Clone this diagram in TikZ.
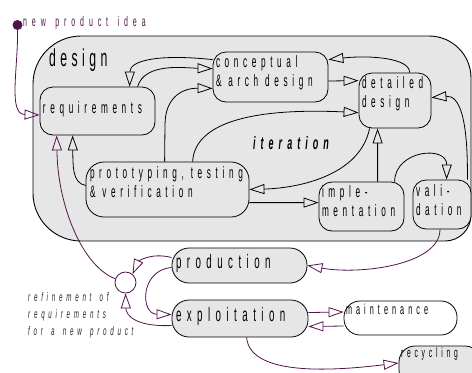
\documentclass[tikz,border=0pt]{standalone}
\usepackage{fontspec}
\usetikzlibrary{arrows.meta}
\newfontfamily\nf[FakeStretch=0.5,LetterSpace=28]{Liberation Sans}
\newfontfamily\nfd[FakeStretch=0.5,LetterSpace=18]{Liberation Sans}
\newfontfamily\nfw[FakeStretch=0.5,LetterSpace=35,WordSpace=1.4]{Liberation Sans}
\newfontfamily\nfr[FakeStretch=0.5,LetterSpace=30,WordSpace=1.5]{Liberation Sans}
\definecolor{boxgray}{RGB}{230,230,230}
\definecolor{plum}{RGB}{80,20,75}
\newcommand\boxtxt[4]{\parbox[c][#2][t]{#1}{\raggedright\rule{0pt}{#3}#4}}
\tikzset{
  box/.style={draw=black, line width=0.8bp, rounded corners=13bp, fill=boxgray,
    inner xsep=3bp, inner ysep=0pt, font=\nf\fontsize{16.5bp}{19bp}\selectfont},
  pill/.style={box, rounded corners=17bp, inner xsep=4bp, font=\nf\fontsize{19.5bp}{22bp}\selectfont},
  smallpill/.style={box, rounded corners=16bp, inner xsep=2bp},
  conn/.style={line width=0.8bp, -{Triangle[open, length=15bp, width=10bp]}},
  pconn/.style={conn, draw=plum},
  designbox/.style={draw=black, line width=0.9bp, fill=boxgray},
}
\begin{document}
\begin{tikzpicture}[x=1bp,y=-1bp]
\useasboundingbox (0,0) rectangle (472,372);
% design container
\path[designbox] (33,150) [rounded corners=48bp] -- (33,36) -- (300,36)
  [rounded corners=42bp] -- (471,36) -- (471,150)
  [rounded corners=26bp] -- (471,241) -- (300,241)
  [rounded corners=48bp] -- (33,241) -- cycle;
\node[anchor=base west, inner sep=0pt, font=\nfd\fontsize{24.5bp}{26bp}\selectfont] (designlbl) at (49,66) {design};
\node[inner sep=0pt, font=\nf\bfseries\itshape\fontsize{18bp}{20bp}\selectfont] (iter) at (291,143) {iteration};

% boxes
\node[box] (req) at (97.5,111) {\boxtxt{109bp}{48bp}{26bp}{requirements}};
\node[box] (concept) at (270.5,77) {\boxtxt{109bp}{50bp}{15bp}{conceptual\\\mbox{\& arch design}}};
\node[box] (detail) at (395,100.5) {\boxtxt{66bp}{55bp}{15bp}{detailed\\design}};
\node[box, rounded corners=18bp, inner xsep=4bp] (proto) at (167.5,189.5) {\boxtxt{155bp}{55bp}{16bp}{\mbox{prototyping, testing}\\\mbox{\& verification}}};
\node[box] (imple) at (361.5,206.5) {\boxtxt{79bp}{49bp}{15bp}{imple-\\mentation}};
\node[box] (valid) at (442,204.5) {\boxtxt{52bp}{49bp}{16bp}{vali-\\dation}};
\node[pill] (prod) at (239.5,265.5) {\boxtxt{127bp}{35bp}{20bp}{production}};
\node[pill] (expl) at (240,318.5) {\boxtxt{128bp}{37bp}{21bp}{exploitation}};
\node[smallpill, fill=white, font=\nf\fontsize{14.5bp}{17bp}\selectfont] (maint) at (400.5,318) {\boxtxt{109bp}{34bp}{13bp}{maintenance}};
\node[smallpill, font=\nf\fontsize{13.5bp}{16bp}\selectfont] (recyc) at (440,366) {\boxtxt{78bp}{40bp}{11bp}{recycling}};

% idea dot and refinement circle
\node[circle, fill=plum, inner sep=0pt, minimum size=10bp] (idea) at (17.5,25) {};
\node[anchor=base west, inner sep=0pt, text=plum, font=\nfw\fontsize{14bp}{16bp}\selectfont] (idealbl) at (23,26) {new product idea};
\node[circle, draw=plum, line width=0.8bp, fill=white, inner sep=0pt, minimum size=21bp] (refc) at (125.5,282.5) {};
\node[anchor=north west, inner sep=0pt, align=left, text=black!85, font=\nfr\itshape\fontsize{12.5bp}{17bp}\selectfont] (reflbl) at (28,292) {refinement of\\requirements\\for a new product};

% black connectors
\draw[conn] ([yshift=-8bp]concept.north west) .. controls (160,54) and (130,60) .. ([xshift=90bp]req.north west);
\draw[conn] ([xshift=98bp]req.north west) .. controls (145,62) and (185,68) .. ([yshift=-17bp]concept.north west);
\draw[conn] ([xshift=79bp]proto.north west) -- (165,125) .. controls (165,95) and (185,88) .. ([yshift=14bp]concept.south west);
\draw[conn] ([xshift=107bp]proto.north west) .. controls (195,120) and (260,108) .. ([yshift=-40bp]detail.north west);
\draw[conn] ([yshift=-4bp]concept.east) -- ([yshift=-8bp]detail.north west);
\draw[conn] ([xshift=51bp]detail.north west) .. controls (410,58) and (370,55) .. ([yshift=-8bp]concept.north east);
\draw[conn] ([xshift=59bp]imple.north west) -- ([xshift=19bp]detail.south west);
\draw[conn] ([xshift=11bp]detail.south west) .. controls (360,175) and (300,188) .. (proto.east);
\draw[conn] ([yshift=-41bp]proto.north east) -- ([yshift=-21bp]imple.north west);
\draw[conn] ([xshift=76bp]imple.north west) .. controls (395,150) and (447,145) .. ([xshift=34bp]valid.north west);
\draw[conn] ([xshift=-4bp]valid.north east) .. controls (468,120) and (460,95) .. ([yshift=-25bp]detail.north east);
\draw[conn] ([yshift=4bp]proto.west) .. controls (72,183) and (73,165) .. ([xshift=33bp]req.south west);

% purple connectors
\draw[pconn] (idea) .. controls (18,70) and (8,114) .. ([yshift=-4bp]req.west);
\draw[pconn, -] (refc.160) .. controls (80,265) and (57,200) .. (57,150);
\draw[pconn] (57,150) -- ([xshift=17bp]req.south west);
\draw[pconn] ([xshift=-2bp]valid.south) .. controls (440,265) and (360,275) .. (prod.east);
\draw[pconn] ([yshift=8bp]prod.west) .. controls (150,252) and (138,262) .. (refc.50);
\draw[pconn] ([yshift=-2bp]prod.west) .. controls (140,270) and (140,314) .. ([yshift=4bp]expl.west);
\draw[pconn] ([yshift=-7bp]expl.west) .. controls (135,327) and (126,315) .. (refc.south);
\draw[pconn] ([yshift=6bp]expl.east) -- ([yshift=6bp]maint.west);
\draw[pconn] ([yshift=-8bp]maint.west) -- ([yshift=-8bp]expl.east);
\draw[pconn] ([xshift=75bp]expl.south west) .. controls (250,378) and (340,370) .. ([yshift=3bp]recyc.west);
\end{tikzpicture}
\end{document}
